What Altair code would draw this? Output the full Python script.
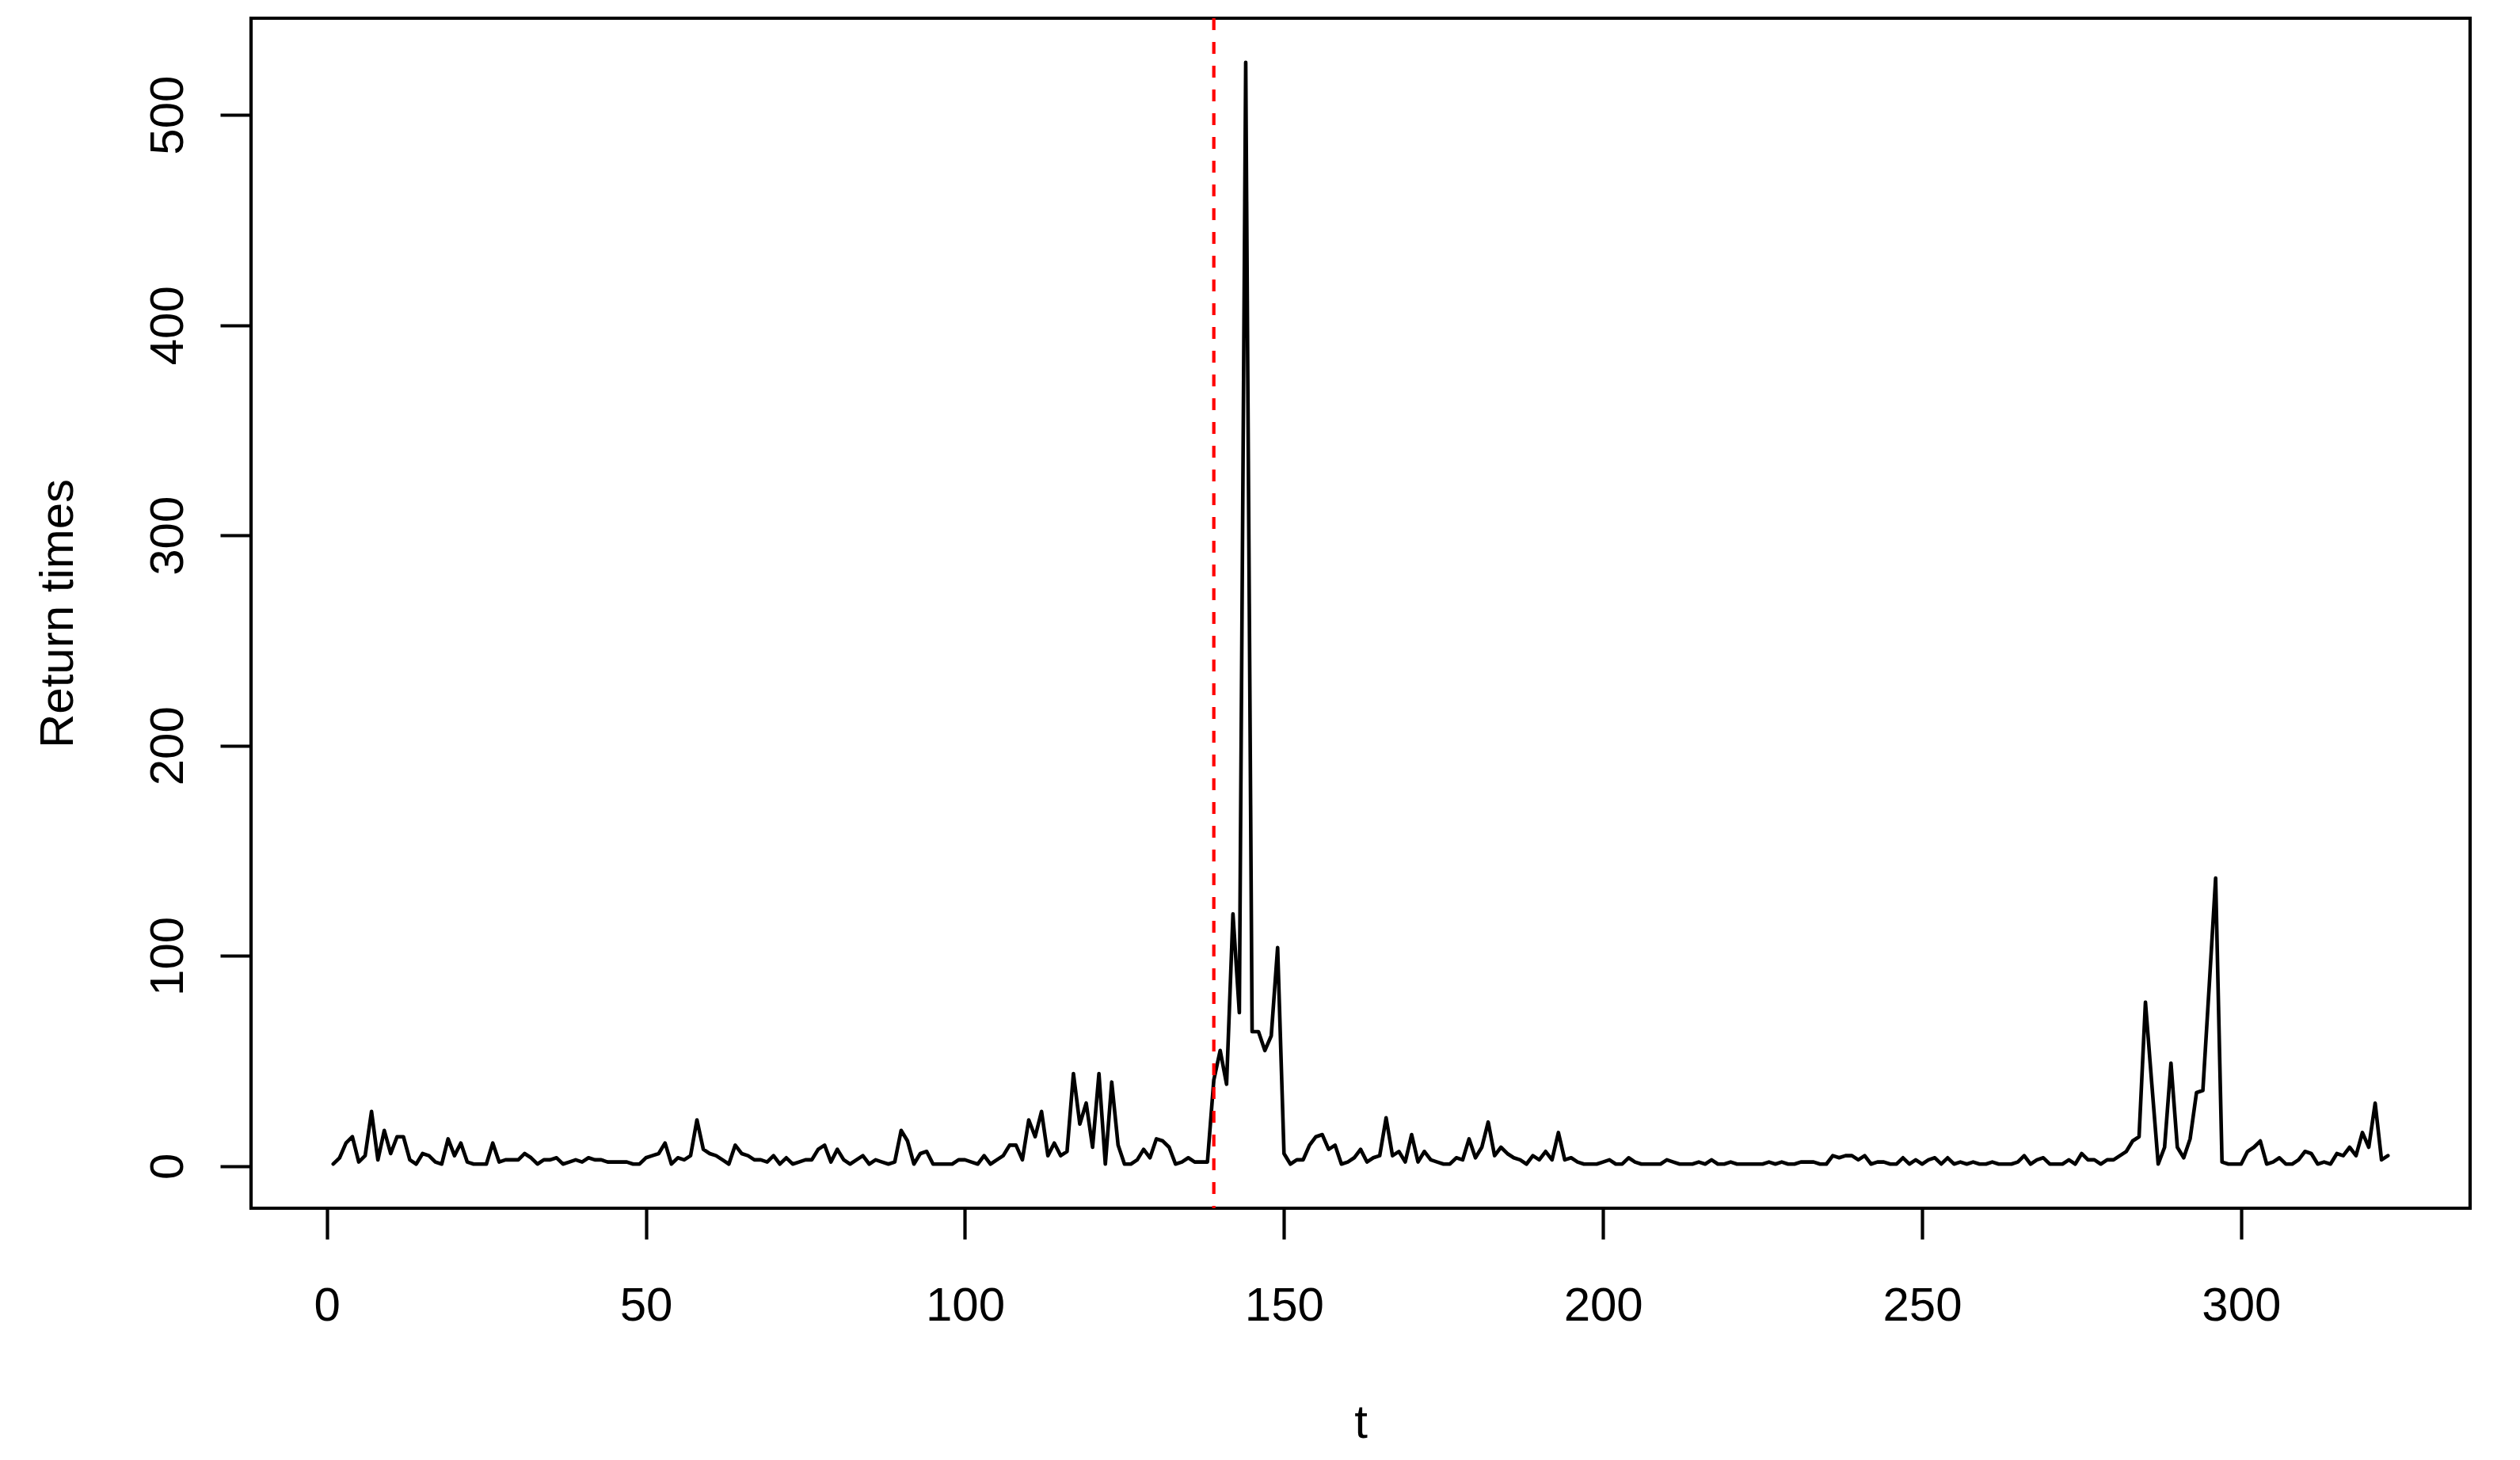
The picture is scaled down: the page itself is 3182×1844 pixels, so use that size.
import altair as alt
import pandas as pd

# Return times, t = 1..323
v001_050 = [1, 4, 11, 14, 2, 5, 26, 3, 17, 6, 14, 14, 3, 1, 6, 5, 2, 1, 13, 5,
            11, 2, 1, 1, 1, 11, 2, 3, 3, 3, 6, 4, 1, 3, 3, 4, 1, 2, 3, 2,
            4, 3, 3, 2, 2, 2, 2, 1, 1, 4]
v051_100 = [5, 6, 11, 1, 4, 3, 5, 22, 8, 6, 5, 3, 1, 10, 6, 5, 3, 3, 2, 5,
            1, 4, 1, 2, 3, 3, 8, 10, 2, 8, 3, 1, 3, 5, 1, 3, 2, 1, 2, 17,
            12, 1, 6, 7, 1, 1, 1, 1, 3, 3]
v101_150 = [2, 1, 5, 1, 3, 5, 10, 10, 3, 22, 14, 26, 5, 11, 5, 7, 44, 20, 30, 9,
            44, 1, 40, 10, 1, 1, 3, 8, 4, 13, 12, 9, 1, 2, 4, 2, 2, 2, 41, 55,
            39, 120, 73, 525, 64, 64, 55, 62, 104, 6]
v151_200 = [1, 3, 3, 10, 14, 15, 8, 10, 1, 2, 4, 8, 2, 4, 5, 23, 5, 7, 2, 15,
            2, 7, 3, 2, 1, 1, 4, 3, 13, 4, 9, 21, 5, 9, 6, 4, 3, 1, 5, 3,
            7, 3, 16, 3, 4, 2, 1, 1, 1, 2]
v201_250 = [3, 1, 1, 4, 2, 1, 1, 1, 1, 3, 2, 1, 1, 1, 2, 1, 3, 1, 1, 2,
            1, 1, 1, 1, 1, 2, 1, 2, 1, 1, 2, 2, 2, 1, 1, 5, 4, 5, 5, 3,
            5, 1, 2, 2, 1, 1, 4, 1, 3, 1]
v251_300 = [3, 4, 1, 4, 1, 2, 1, 2, 1, 1, 2, 1, 1, 1, 2, 5, 1, 3, 4, 1,
            1, 1, 3, 1, 6, 3, 3, 1, 3, 3, 5, 7, 12, 14, 78, 39, 1, 9, 49, 9,
            4, 13, 35, 36, 86, 137, 2, 1, 1, 1]
v301_323 = [7, 9, 12, 1, 2, 4, 1, 1, 3, 7, 6, 1, 2, 1, 6, 5, 9, 5, 16, 9,
            30, 3, 5]

return_times = v001_050 + v051_100 + v101_150 + v151_200 + v201_250 + v251_300 + v301_323
t_index = list(range(1, len(return_times) + 1))

vline_t = [139]
x_ticks = [0, 50, 100, 150, 200, 250, 300]
y_ticks = [0, 100, 200, 300, 400, 500]

df = pd.DataFrame({"t": t_index, "rt": return_times})
vdf = pd.DataFrame({"t": vline_t})

FONT = "Liberation Sans"
LW = 4.2

x_scale = alt.Scale(domain=[-11.88, 335.88], nice=False, zero=False)
y_scale = alt.Scale(domain=[-20, 546], nice=False, zero=False)

x_axis = alt.Axis(values=x_ticks, title="t", grid=False, domain=False,
                  tickSize=39, tickWidth=LW, tickColor="black",
                  labelFont=FONT, labelFontSize=60, labelColor="black",
                  labelBaseline="alphabetic", labelPadding=102, labelFlush=False,
                  titleFont=FONT, titleFontSize=60, titleFontWeight="normal",
                  titleColor="black", titleBaseline="alphabetic", titleY=289)
y_axis = alt.Axis(values=y_ticks, title="Return times", grid=False, domain=False,
                  tickSize=39, tickWidth=LW, tickColor="black",
                  labelFont=FONT, labelFontSize=60, labelColor="black",
                  labelAngle=270, labelAlign="center", labelBaseline="alphabetic",
                  labelPadding=48, labelFlush=False,
                  titleFont=FONT, titleFontSize=60, titleFontWeight="normal",
                  titleColor="black", titleAngle=270, titleAlign="center",
                  titleBaseline="alphabetic", titleX=-226, titleY=751.5)

line = alt.Chart(df).mark_line(color="black", strokeWidth=4.6,
                               strokeJoin="round", strokeCap="round").encode(
    x=alt.X("t:Q", scale=x_scale, axis=x_axis),
    y=alt.Y("rt:Q", scale=y_scale, axis=y_axis),
)

vline = alt.Chart(vdf).mark_rule(color="#FF0000", strokeWidth=LW,
                                 strokeDash=[15, 15]).encode(
    x=alt.X("t:Q", scale=x_scale),
)

chart = alt.layer(line, vline).properties(
    width=2802, height=1503,
    autosize=alt.AutoSizeParams(type="none"),
    padding={"left": 309, "top": 15, "right": 50, "bottom": 315},
).configure_view(stroke="black", strokeWidth=LW)

chart.save("out.html", embed_options={"renderer": "svg", "actions": False})
